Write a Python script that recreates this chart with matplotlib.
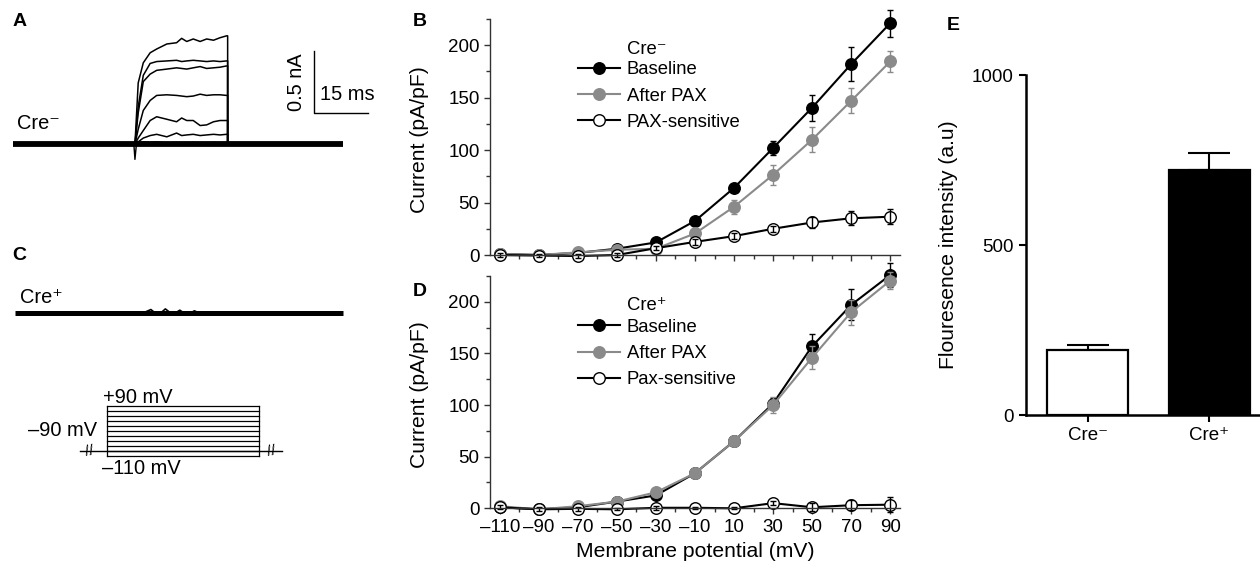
import matplotlib
matplotlib.use("Agg")
import matplotlib.pyplot as plt
from matplotlib.lines import Line2D
from matplotlib.ticker import MultipleLocator

plt.rcParams["font.family"] = ["Liberation Sans", "DejaVu Sans"]
plt.rcParams["font.size"] = 13.5

SUP_MINUS = "\u207b"
SUP_PLUS = "\u207a"
DASH = "\u2013"

# ---- panel A: current traces (ms, nA), Cre- ----
STEP_ON = 33.6
STEP_OFF = 59.2
SWEEP_END = 91.0
ONSET_DIP = -0.12
STEP_T = [33.6, 34.5, 35.9, 37.8, 39.6, 42.4, 45.1, 46.5, 47.9, 49.7, 51.6, 53.4, 55.3, 57.1, 58.9]
TRACE_1 = [0, 0.49, 0.65, 0.73, 0.76, 0.80, 0.81, 0.845, 0.82, 0.84, 0.82, 0.84, 0.83, 0.85, 0.865]
TRACE_2 = [0, 0.30, 0.55, 0.645, 0.66, 0.665, 0.67, 0.66, 0.665, 0.67, 0.665, 0.66, 0.665, 0.66, 0.665]
TRACE_3 = [0, 0.25, 0.50, 0.56, 0.59, 0.60, 0.61, 0.605, 0.60, 0.61, 0.62, 0.605, 0.61, 0.615, 0.625]
TRACE_4 = [0, 0.12, 0.27, 0.35, 0.39, 0.395, 0.39, 0.385, 0.38, 0.385, 0.40, 0.39, 0.395, 0.395, 0.39]
TRACE_5 = [0, 0.05, 0.11, 0.19, 0.22, 0.20, 0.18, 0.21, 0.19, 0.19, 0.15, 0.155, 0.18, 0.19, 0.19]
TRACE_6 = [0, 0.02, 0.05, 0.07, 0.08, 0.06, 0.09, 0.07, 0.075, 0.08, 0.07, 0.075, 0.08, 0.075, 0.08]
TRACE_7 = [0, 0.01, 0.02, 0.015, 0.02, 0.01, 0.015, 0.01, 0.01, 0.015, 0.01, 0.01, 0.015, 0.01, 0.01]
SCALE_NA = 0.5
SCALE_MS = 15

# ---- panel C: Cre+ trace and voltage protocol ----
CREPOS_WIGGLE_T = [36, 38, 40, 42, 44, 46, 48, 50, 52, 54]
CREPOS_WIGGLE_I = [0, 0.025, -0.02, 0.03, -0.015, 0.02, -0.02, 0.015, -0.01, 0]
STEP_LEVELS = list(range(-110, 91, 20))  # mV
HOLD_MV = -90
PROTO_STEP = (0, 100)      # step window (arbitrary time units)
PROTO_HOLD = (-18, 115)    # holding segment drawn around it

# ---- panels B / D: I-V curves ----
VOLTAGES = [-110, -90, -70, -50, -30, -10, 10, 30, 50, 70, 90]
CRENEG_BASE = [1, 0, 2, 6, 12, 32.5, 64, 102, 140.5, 182, 221]
CRENEG_BASE_SEM = [1, 1, 1, 1.5, 2, 2, 2, 7, 12.5, 16, 13]
CRENEG_PAX = [1, 0, 2.5, 5, 6, 20.5, 46, 76.5, 110, 147, 184.5]
CRENEG_PAX_SEM = [1, 1, 1.5, 1.5, 1.5, 2.5, 6.5, 9.5, 12, 12, 10]
CRENEG_SENS = [0, -0.5, -1, 0, 6.5, 12.5, 18, 25, 31, 35, 36.5]
CRENEG_SENS_SEM = [2, 1.5, 2, 2, 2, 2.5, 2.5, 3, 5, 6.5, 7]

CREPOS_BASE = [1, -1, 1, 6.5, 12.5, 34, 65, 101.5, 157, 197, 226]
CREPOS_BASE_SEM = [1, 1, 1, 1.5, 2, 2, 3, 5, 12, 15, 12]
CREPOS_PAX = [2, -1, 2, 6.5, 15.5, 34, 65, 100, 146, 190, 220.5]
CREPOS_PAX_SEM = [1, 1, 1.5, 1.5, 2, 2, 4, 8, 11.5, 12, 8]
CREPOS_SENS = [1, -1, -0.5, -1, 0.5, 0.5, 0, 5, 1, 3, 3.5]
CREPOS_SENS_SEM = [2, 2, 2, 1, 2, 1, 1, 2, 4, 5, 7.5]

# ---- panel E: fluorescence ----
GROUPS = ["Cre" + SUP_MINUS, "Cre" + SUP_PLUS]
FLUOR_MEAN = [190, 720]
FLUOR_SEM = [16, 50]

W, H = 1260, 571
GRAY = "#8a8a8a"
SPINE = "#333333"
LABEL_FS = 15.2
LEGEND_FS = 13.3
NOTE_FS = 14.4


def box(x0, y0, x1, y1):
    """pixel box (top-left origin) -> figure fraction rect"""
    return [x0 / W, 1 - y1 / H, (x1 - x0) / W, (y1 - y0) / H]


fig = plt.figure(figsize=(W / 100, H / 100), dpi=100)

# ---------------- A ----------------
axA = fig.add_axes(box(0, 10, 400, 190))
axA.set_xlim(-3.67, 106.8)
axA.set_ylim(-0.364, 1.071)
axA.axis("off")
axA.plot([0, SWEEP_END], [0, 0], color="black", lw=4.2, solid_capstyle="butt")
axA.plot([STEP_ON - 0.3, STEP_ON, STEP_ON + 0.4], [0, ONSET_DIP, 0], color="black", lw=1)
for tr in [TRACE_7, TRACE_6, TRACE_5, TRACE_4, TRACE_3, TRACE_2, TRACE_1]:
    t = STEP_T + [STEP_OFF, STEP_OFF]
    y = tr + [tr[-1], 0]
    axA.plot(t, y, color="black", lw=1.1)
sx = 83
axA.plot([sx, sx, sx + SCALE_MS], [0.247 + SCALE_NA, 0.247, 0.247], color="black", lw=1)
axA.text(sx - 4.7, 0.247 + SCALE_NA / 2, "0.5 nA", rotation=90, ha="center", va="center",
         fontsize=NOTE_FS)
axA.text(sx + 1.7, 0.40, "15 ms", ha="left", va="center", fontsize=NOTE_FS)
axA.text(1.0, 0.167, "Cre" + SUP_MINUS, ha="left", va="center", fontsize=NOTE_FS)

# ---------------- C ----------------
axC = fig.add_axes(box(0, 280, 400, 340))
axC.set_xlim(-3.67, 106.8)
axC.set_ylim(-0.218, 0.261)
axC.axis("off")
axC.plot([0.5, SWEEP_END], [0, 0], color="black", lw=3.6, solid_capstyle="butt")
axC.plot(CREPOS_WIGGLE_T, CREPOS_WIGGLE_I, color="black", lw=1.2)
axC.text(1.85, 0.125, "Cre" + SUP_PLUS, ha="left", va="center", fontsize=NOTE_FS)

axP = fig.add_axes(box(0, 380, 400, 480))
axP.set_xlim(-70.6, 192.6)
axP.set_ylim(-205.4, 192.2)
axP.axis("off")
axP.plot(PROTO_HOLD, [HOLD_MV, HOLD_MV], color="black", lw=1)
for v in STEP_LEVELS:
    axP.plot(PROTO_STEP, [v, v], color="black", lw=0.9)
for t in PROTO_STEP:
    axP.plot([t, t], [STEP_LEVELS[0], STEP_LEVELS[-1]], color="black", lw=0.9)
for t in [PROTO_HOLD[0] + 6.6, PROTO_HOLD[1] - 6.8]:
    axP.text(t, HOLD_MV, "//", ha="center", va="center", fontsize=11, rotation=10)
axP.text(-2.8, 124.6, "+90 mV", ha="left", va="center", fontsize=NOTE_FS)
axP.text(-6.8, -6.6, DASH + "90 mV", ha="right", va="center", fontsize=NOTE_FS)
axP.text(-3.5, -157.7, DASH + "110 mV", ha="left", va="center", fontsize=NOTE_FS)


# ---------------- B / D ----------------
def iv_panel(ax, base, base_e, pax, pax_e, sens, sens_e, show_x):
    mk = dict(marker="o", markersize=8.3, lw=1.5, clip_on=False)
    eb = dict(fmt="none", capsize=2.4, elinewidth=1, capthick=1, clip_on=False)
    ax.plot(VOLTAGES, base, color="black", mfc="black", mec="black", zorder=3, **mk)
    ax.errorbar(VOLTAGES, base, yerr=base_e, ecolor="black", zorder=3.1, **eb)
    ax.plot(VOLTAGES, pax, color=GRAY, mfc=GRAY, mec=GRAY, zorder=3.2, **mk)
    ax.errorbar(VOLTAGES, pax, yerr=pax_e, ecolor=GRAY, zorder=3.3, **eb)
    ax.plot(VOLTAGES, sens, color="black", mfc="white", mec="black", mew=1,
            zorder=3.4, **mk)
    ax.errorbar(VOLTAGES, sens, yerr=sens_e, ecolor="black", zorder=3.5, **eb)

    ax.set_xlim(-115, 95)
    ax.set_ylim(0, 225)
    ax.set_xticks(VOLTAGES)
    ax.xaxis.set_minor_locator(MultipleLocator(10))
    ax.set_yticks([0, 50, 100, 150, 200])
    ax.yaxis.set_minor_locator(MultipleLocator(25))
    for s in ["top", "right"]:
        ax.spines[s].set_visible(False)
    for s in ["left", "bottom"]:
        ax.spines[s].set_color(SPINE)
        ax.spines[s].set_linewidth(1)
        ax.spines[s].set_zorder(5)
    ax.tick_params(which="major", direction="out", length=4.5, width=1, color=SPINE, pad=3)
    ax.tick_params(which="minor", direction="out", length=3, width=1, color=SPINE)
    if show_x:
        ax.set_xticklabels([str(v).replace("-", DASH) for v in VOLTAGES])
        ax.set_xlabel("Membrane potential (mV)", fontsize=LABEL_FS, va="center")
        ax.xaxis.set_label_coords(0.5, -0.188)
    else:
        ax.set_xticklabels([])
    ax.set_ylabel("Current (pA/pF)", va="center", fontsize=LABEL_FS)
    ax.yaxis.set_label_coords(-0.171, 0.49)

    handles = [
        Line2D([], [], color="black", marker="o", markersize=8.3, mfc="black", lw=1.5),
        Line2D([], [], color=GRAY, marker="o", markersize=8.3, mfc=GRAY, mec=GRAY, lw=1.5),
        Line2D([], [], color="black", marker="o", markersize=8.3, mfc="white", lw=1.5),
    ]
    return handles


leg_kw = dict(loc="upper left", frameon=False, borderpad=0, borderaxespad=0,
              handlelength=2.27, handletextpad=0.38, labelspacing=0.5, fontsize=LEGEND_FS)

axB = fig.add_axes(box(490, 19, 900, 255))
hB = iv_panel(axB, CRENEG_BASE, CRENEG_BASE_SEM, CRENEG_PAX, CRENEG_PAX_SEM,
              CRENEG_SENS, CRENEG_SENS_SEM, False)
axB.text(0.334, 0.869, "Cre" + SUP_MINUS, transform=axB.transAxes, ha="left", va="center",
         fontsize=LEGEND_FS)
axB.legend(hB, ["Baseline", "After PAX", "PAX-sensitive"], bbox_to_anchor=(0.2146, 0.82),
           **leg_kw)

axD = fig.add_axes(box(490, 276, 900, 508.3))
hD = iv_panel(axD, CREPOS_BASE, CREPOS_BASE_SEM, CREPOS_PAX, CREPOS_PAX_SEM,
              CREPOS_SENS, CREPOS_SENS_SEM, True)
axD.text(0.334, 0.872, "Cre" + SUP_PLUS, transform=axD.transAxes, ha="left", va="center",
         fontsize=LEGEND_FS)
axD.legend(hD, ["Baseline", "After PAX", "Pax-sensitive"], bbox_to_anchor=(0.2146, 0.816),
           **leg_kw)

# ---------------- E ----------------
axE = fig.add_axes(box(1026, 75, 1260, 415))
xpos = list(range(len(GROUPS)))
axE.bar(xpos, FLUOR_MEAN, width=0.67, color=["white", "black"], edgecolor="black",
        linewidth=1.6, zorder=2)
axE.errorbar(xpos, FLUOR_MEAN, yerr=[[0] * len(FLUOR_SEM), FLUOR_SEM], fmt="none",
             ecolor="black", elinewidth=1.5, capsize=15, capthick=1.5, zorder=1)
axE.set_xlim(-0.507, 1.416)
axE.set_ylim(0, 1000)
axE.set_yticks([0, 500, 1000])
axE.set_xticks(xpos)
axE.set_xticklabels(GROUPS)
for s in ["top", "right"]:
    axE.spines[s].set_visible(False)
for s in ["left", "bottom"]:
    axE.spines[s].set_linewidth(1.8)
axE.tick_params(direction="out", length=5, width=1.5, pad=4)
axE.set_ylabel("Flouresence intensity (a.u)", va="center", fontsize=LABEL_FS)
axE.yaxis.set_label_coords(-0.333, 0.5)

# panel letters
for letter, (px, py) in {"A": (12.7, 21.5), "B": (413, 21.5), "C": (12, 256),
                         "D": (413, 291.5), "E": (947, 25)}.items():
    fig.text(px / W, 1 - py / H, letter, fontweight="bold", fontsize=14,
             ha="left", va="center")

fig.savefig("out.png", dpi=100)
